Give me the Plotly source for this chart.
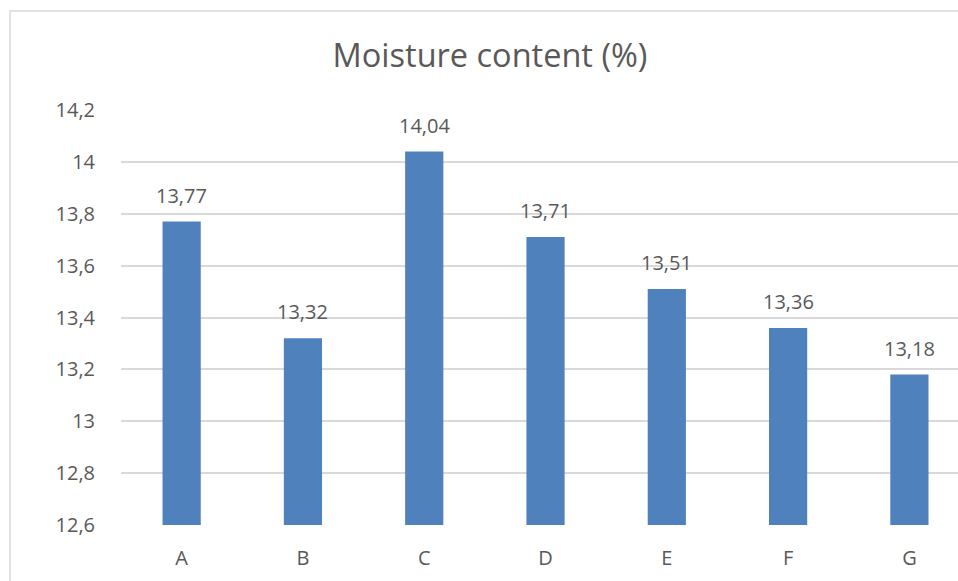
import plotly.graph_objects as go

# Chart data
categories = ["A", "B", "C", "D", "E", "F", "G"]
moisture = [13.77, 13.32, 14.04, 13.71, 13.51, 13.36, 13.18]
y_ticks = [12.6, 12.8, 13.0, 13.2, 13.4, 13.6, 13.8, 14.0, 14.2]
y_tick_labels = ["12,6", "12,8", "13", "13,2", "13,4", "13,6", "13,8", "14", "14,2"]

TEXT = "#595959"
GRID = "#d9d9d9"
BAR = "#4f81bd"
FONT = "Open Sans"

W, H = 958, 581
ML, MR, MT, MB = 121, 0, 110, 56
PW, PH = W - ML - MR, H - MT - MB

fig = go.Figure()
fig.add_trace(go.Bar(
    x=categories,
    y=moisture,
    width=0.315,
    marker=dict(color=BAR, line=dict(width=0)),
    hoverinfo="skip",
))

# Value labels above each bar, comma as decimal separator
for c, v in zip(categories, moisture):
    fig.add_annotation(
        x=c, y=v, text=f"{v:.2f}".replace(".", ","),
        showarrow=False, yanchor="bottom", yshift=11,
        font=dict(family=FONT, size=20, color=TEXT),
    )

# Outer chart frame
fig.add_shape(
    type="rect", xref="paper", yref="paper",
    x0=(10 - ML) / PW, x1=1.2,
    y0=-0.3, y1=(H - MB - 11) / PH,
    line=dict(color=GRID, width=1.5), fillcolor="rgba(0,0,0,0)",
    layer="below",
)

fig.update_layout(
    width=W, height=H,
    margin=dict(l=ML, r=MR, t=MT, b=MB),
    paper_bgcolor="white", plot_bgcolor="white",
    showlegend=False,
    title=dict(
        text="Moisture content (%)",
        xref="container", yref="container",
        x=490 / W, y=1 - 56 / H, xanchor="center", yanchor="middle",
        font=dict(family=FONT, size=32.5, color=TEXT),
    ),
    xaxis=dict(
        type="category",
        range=[-0.5, 6.5 - (ML + 6.5 * 121.3 + 60.6 - W) / 121.3],
        showgrid=False, zeroline=False, showline=False,
        ticks="outside", ticklen=15, tickcolor="rgba(0,0,0,0)",
        tickfont=dict(family=FONT, size=20, color=TEXT),
    ),
    yaxis=dict(
        range=[12.6, 14.2],
        tickvals=y_ticks, ticktext=y_tick_labels,
        showgrid=True, gridcolor=GRID, gridwidth=1.5,
        zeroline=False, showline=False,
        ticks="outside", ticklen=21, tickcolor="rgba(0,0,0,0)",
        tickfont=dict(family=FONT, size=20, color=TEXT),
    ),
)

fig.write_html("out.html")
